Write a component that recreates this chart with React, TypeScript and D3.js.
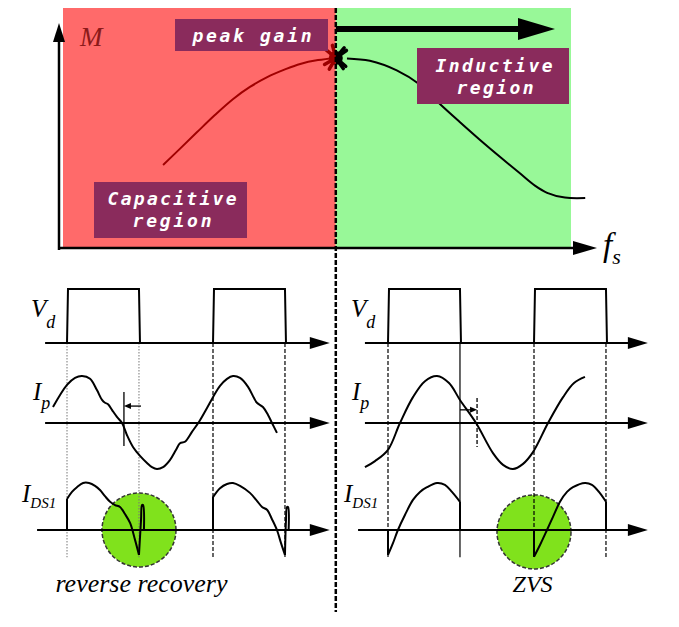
import React from 'react';
import * as d3 from 'd3';

// ---- gain curve M(fs), frequency in arbitrary units ----
const FS_MAX = 10;
const F_RES = 5.37;
const CAP_FS = [1.97, 2.3, 2.64, 2.99, 3.35, 3.68, 4.02, 4.37, 4.67, 5.02, 5.37];
const CAP_M = [0.346, 0.413, 0.483, 0.554, 0.621, 0.671, 0.712, 0.744, 0.767, 0.783, 0.792];
const IND_FS = [5.59, 6.04, 6.57, 7.03, 7.42, 7.81, 8.21, 8.6, 9.0, 9.29, 9.53, 9.88, 10.28];
const IND_M = [0.79, 0.78, 0.74, 0.68, 0.6, 0.525, 0.45, 0.38, 0.31, 0.26, 0.23, 0.21, 0.208];

// ---- switching waveforms, time in switching periods ----
const PULSES = [[0, 0.493], [1, 1.493]];
const EDGES = [0, 0.493, 1, 1.493];

const IP_CAP_T = [-0.096, 0, 0.055, 0.103, 0.158, 0.205, 0.24, 0.26, 0.281, 0.308, 0.342, 0.377, 0.411, 0.452, 0.5, 0.548, 0.582, 0.616, 0.658, 0.705, 0.747, 0.774, 0.808, 0.856, 0.911, 0.959, 1.0, 1.048, 1.096, 1.137, 1.185, 1.24, 1.281, 1.301, 1.342, 1.377, 1.404, 1.438];
const IP_CAP_V = [0.34, 0.81, 0.96, 1.0, 0.94, 0.7, 0.49, 0.43, 0.4, 0.28, 0.13, 0, -0.26, -0.51, -0.7, -0.85, -0.94, -0.98, -0.94, -0.79, -0.57, -0.43, -0.4, -0.19, 0.06, 0.32, 0.55, 0.79, 0.94, 1.0, 0.96, 0.77, 0.53, 0.43, 0.34, 0.17, 0, -0.21];

const IP_IND_T = [-0.158, -0.089, 0, 0.082, 0.171, 0.253, 0.336, 0.418, 0.493, 0.603, 0.719, 0.788, 0.856, 0.925, 0.993, 1.096, 1.199, 1.274, 1.349];
const IP_IND_V = [-0.94, -0.81, -0.57, 0, 0.55, 0.89, 1.0, 0.85, 0.49, 0, -0.64, -0.89, -0.98, -0.87, -0.62, 0, 0.55, 0.85, 0.98];

const IDS_CAP: [number, number][][] = [
  [[0, 0], [0, 0.66]],
  [[0, 0.66], [0.034, 0.81], [0.068, 0.91], [0.11, 1.0], [0.151, 1.0], [0.192, 0.94], [0.226, 0.85], [0.26, 0.72], [0.295, 0.6], [0.329, 0.53], [0.363, 0.49], [0.397, 0.34], [0.432, 0.15], [0.466, -0.21], [0.493, -0.53]],
  [[0.493, -0.53], [0.507, 0.21], [0.514, 0.53], [0.521, 0.53], [0.527, 0]],
  [[1.0, 0], [1.0, 0.7]],
  [[1.0, 0.7], [1.048, 0.89], [1.096, 0.98], [1.137, 1.0], [1.185, 0.94], [1.253, 0.79], [1.301, 0.62], [1.336, 0.49], [1.37, 0.43], [1.404, 0.23], [1.438, 0], [1.466, -0.28], [1.493, -0.53]],
  [[1.493, -0.53], [1.5, 0.21], [1.507, 0.49], [1.514, 0.49], [1.518, 0]],
];

const IDS_IND: [number, number][][] = [
  [[0, 0], [0, -0.53]],
  [[0, -0.53], [0.034, -0.28], [0.068, 0], [0.116, 0.32], [0.171, 0.64], [0.219, 0.81], [0.267, 0.91], [0.336, 1.0], [0.39, 0.96], [0.438, 0.81], [0.493, 0.6]],
  [[0.493, 0.6], [0.493, 0]],
  [[1.0, 0], [1.0, -0.57]],
  [[1.0, -0.57], [1.041, -0.32], [1.089, 0], [1.13, 0.28], [1.178, 0.6], [1.226, 0.81], [1.267, 0.91], [1.349, 1.0], [1.397, 0.96], [1.445, 0.81], [1.493, 0.6]],
  [[1.493, 0.6], [1.493, 0]],
];

const W = 679;
const H = 627;
const BOX = '#8a2b5c';
const SERIF = "'Liberation Serif', 'Times New Roman', serif";
const MONO = "'DejaVu Sans Mono', 'Liberation Mono', monospace";
const serif = (size: number, fill = '#000') => ({ fontFamily: SERIF, fontStyle: 'italic', fontSize: size, fill });
const mono = { fontFamily: MONO, fontWeight: 'bold', fontStyle: 'italic', fontSize: 18, fill: '#fff' } as any;

const xF = d3.scaleLinear().domain([0, FS_MAX]).range([63, 571]);
const yM = d3.scaleLinear().domain([0, 1]).range([248, 8]);
const yV = d3.scaleLinear().domain([0, 1]).range([343, 289]);
const yI = d3.scaleLinear().domain([-1, 1]).range([470, 376]);
const yD = d3.scaleLinear().domain([-1, 1]).range([577, 483]);

const smooth = d3.curveCatmullRom.alpha(0.5);
const zip = (a: number[], b: number[]) => a.map((v, i) => [v, b[i]] as [number, number]);

function HArrow({ x1, x2, y, head = 20, half = 6, w = 2 }: any) {
  return (
    <g>
      <line x1={x1} x2={x2 - head + 2} y1={y} y2={y} stroke="#000" strokeWidth={w} />
      <polygon points={`${x2},${y} ${x2 - head},${y - half} ${x2 - head},${y + half}`} fill="#000" />
    </g>
  );
}

function GainChart() {
  const gain = d3.line<[number, number]>().x(d => xF(d[0])).y(d => yM(d[1])).curve(smooth);
  const pk: [number, number] = [xF(F_RES), yM(CAP_M[CAP_M.length - 1])];
  const spikes = [-140, -105, -50, 40, 120, 150, 55, -35];
  const half = d3.arc();
  return (
    <g>
      <rect x={xF(0)} y={yM(1)} width={xF(F_RES) - xF(0)} height={yM(0) - yM(1)} fill="#ff6a6a" />
      <rect x={xF(F_RES)} y={yM(1)} width={xF(FS_MAX) - xF(F_RES)} height={yM(0) - yM(1)} fill="#98f898" />
      {/* axes */}
      <line x1={59} x2={59} y1={yM(0) + 2} y2={40} stroke="#000" strokeWidth={2.5} />
      <polygon points="59,23 53,42 65,42" fill="#000" />
      <HArrow x1={58} x2={597} y={yM(0)} head={24} half={7} w={2.5} />
      <text x={80} y={46} style={serif(27, '#8b1a1a')}>M</text>
      <text x={603} y={256} style={serif(33)}>f
        <tspan style={{ fontSize: 22 }} dy={8}>s</tspan>
      </text>
      {/* frequency direction arrow */}
      <line x1={xF(F_RES)} x2={520} y1={29} y2={29} stroke="#000" strokeWidth={6} />
      <polygon points="555,29 518,18 518,40" fill="#000" />
      {/* gain curve */}
      <path d={gain(zip(CAP_FS, CAP_M)) || ''} fill="none" stroke="#a00000" strokeWidth={2} />
      <path d={gain(zip(IND_FS, IND_M)) || ''} fill="none" stroke="#000" strokeWidth={2} />
      {/* peak marker */}
      <g transform={`translate(${pk[0]},${pk[1]})`}>
        {spikes.map((a, i) => {
          const r = (a * Math.PI) / 180;
          return (
            <line key={i} x1={0} y1={0} x2={Math.cos(r) * 13} y2={Math.sin(r) * 13}
              stroke={Math.cos(r) < 0 ? '#9b0000' : '#000'} strokeWidth={3.5} strokeLinecap="round" />
          );
        })}
        <path d={half({ innerRadius: 0, outerRadius: 7, startAngle: Math.PI, endAngle: 2 * Math.PI } as any) || ''} fill="#9b0000" />
        <path d={half({ innerRadius: 0, outerRadius: 7, startAngle: 0, endAngle: Math.PI } as any) || ''} fill="#000" />
      </g>
      {/* labels */}
      <rect x={175} y={19} width={153} height={32} fill={BOX} />
      <text x={252} y={42} textAnchor="middle" style={mono} textLength={119} lengthAdjust="spacing">peak gain</text>
      <rect x={94} y={182} width={153} height={56} fill={BOX} />
      <text x={172} y={205} textAnchor="middle" style={mono} textLength={129} lengthAdjust="spacing">Capacitive</text>
      <text x={172} y={227} textAnchor="middle" style={mono} textLength={79} lengthAdjust="spacing">region</text>
      <rect x={417} y={48} width={152} height={56} fill={BOX} />
      <text x={494} y={72} textAnchor="middle" style={mono} textLength={117} lengthAdjust="spacing">Inductive</text>
      <text x={495} y={94} textAnchor="middle" style={mono} textLength={77} lengthAdjust="spacing">region</text>
    </g>
  );
}

function WavePanel(p: any) {
  const t = d3.scaleLinear().domain([0, 1]).range([p.t0, p.t0 + 146]);
  const ipLine = d3.line<[number, number]>().x(d => t(d[0])).y(d => yI(d[1])).curve(smooth);
  const idLine = d3.line<[number, number]>().x(d => t(d[0])).y(d => yD(d[1])).curve(smooth);
  const m = p.marker;
  const ax = t(m.tArrow);
  const tipX = t(m.tLine);
  const dir = tipX > ax ? 1 : -1;
  return (
    <g>
      <circle cx={t(p.circleT)} cy={yD(p.circleV)} r={37} fill="#80e21c" stroke="#333" strokeWidth={1.5} strokeDasharray="4 2" />
      {EDGES.map((e, i) => (
        <line key={i} x1={t(e)} x2={t(e)} y1={yV(0)} y2={yD(-0.58)}
          stroke={p.edgeStyle[i] === 'dot' ? '#777' : '#000'}
          strokeWidth={p.edgeStyle[i] === 'dot' ? 1 : 1.2}
          strokeDasharray={p.edgeStyle[i] === 'solid' ? undefined : p.edgeStyle[i] === 'dot' ? '1.5 1.5' : '4 2'} />
      ))}
      {/* Vd */}
      <HArrow x1={t(p.axisT[0])} x2={t(p.axisT[1])} y={yV(0)} />
      {PULSES.map((q, i) => (
        <path key={i} d={`M${t(q[0])},${yV(0)}L${t(q[0]) + 1},${yV(1)}L${t(q[1])},${yV(1)}L${t(q[1]) + 1},${yV(0)}`}
          fill="none" stroke="#000" strokeWidth={2} />
      ))}
      {/* Ip */}
      <HArrow x1={t(p.axisT[0])} x2={t(p.axisT[1])} y={yI(0)} />
      <path d={ipLine(p.ip) || ''} fill="none" stroke="#000" strokeWidth={2} />
      <line x1={tipX} x2={tipX} y1={yI(m.v1)} y2={yI(m.v2)} stroke="#000" strokeWidth={1.3} strokeDasharray={m.dashed ? '4 2' : undefined} />
      <line x1={ax} x2={tipX - dir * 5} y1={yI(m.vArrow)} y2={yI(m.vArrow)} stroke="#000" strokeWidth={1.3} />
      <polygon points={`${tipX},${yI(m.vArrow)} ${tipX - dir * 7},${yI(m.vArrow) - 3} ${tipX - dir * 7},${yI(m.vArrow) + 3}`} fill="#000" />
      {/* IDS1 */}
      <HArrow x1={t(p.idsAxisT)} x2={t(p.axisT[1])} y={yD(0)} />
      {p.ids.map((seg: [number, number][], i: number) => (
        <path key={i} d={idLine(seg) || ''} fill="none" stroke="#000" strokeWidth={2} />
      ))}
      {/* labels */}
      <text x={p.vx} y={317} style={serif(25)}>V
        <tspan style={{ fontSize: 18 }} dy={11}>d</tspan>
      </text>
      <text x={p.ix} y={400} style={serif(25)}>I
        <tspan style={{ fontSize: 18 }} dy={9}>p</tspan>
      </text>
      <text x={p.dx} y={502} style={serif(25)}>I
        <tspan style={{ fontSize: 15 }} dy={6}>DS1</tspan>
      </text>
      <text x={t(p.captionT)} y={592} textAnchor="middle" style={serif(p.captionSize)}>{p.caption}</text>
    </g>
  );
}

export default function App() {
  return (
    <svg width={W} height={H} viewBox={`0 0 ${W} ${H}`} style={{ position: 'absolute', left: 0, top: 0, background: '#fff' }}>
      <rect width={W} height={H} fill="#fff" />
      <GainChart />
      <WavePanel t0={67} axisT={[-0.15, 1.8]} idsAxisT={-0.205}
        ip={zip(IP_CAP_T, IP_CAP_V)} ids={IDS_CAP}
        circleT={0.493} circleV={0}
        marker={{ tLine: 0.39, v1: 0.66, v2: -0.49, tArrow: 0.507, vArrow: 0.36, dashed: false }}
        edgeStyle={['dot', 'dot', 'dash', 'dash']}
        vx={31} ix={33} dx={22} caption="reverse recovery" captionT={0.51} captionSize={26} />
      <WavePanel t0={388} axisT={[-0.158, 1.78]} idsAxisT={-0.205}
        ip={zip(IP_IND_T, IP_IND_V)} ids={IDS_IND}
        circleT={1.0} circleV={-0.04}
        marker={{ tLine: 0.61, v1: 0.53, v2: -0.51, tArrow: 0.493, vArrow: 0.28, dashed: true }}
        edgeStyle={['dash', 'solid', 'dash', 'dash']}
        vx={351} ix={352} dx={344} caption="ZVS" captionT={0.99} captionSize={24} />
      <line x1={xF(F_RES)} x2={xF(F_RES)} y1={8} y2={612} stroke="#000" strokeWidth={2.5} strokeDasharray="5 2" />
    </svg>
  );
}
